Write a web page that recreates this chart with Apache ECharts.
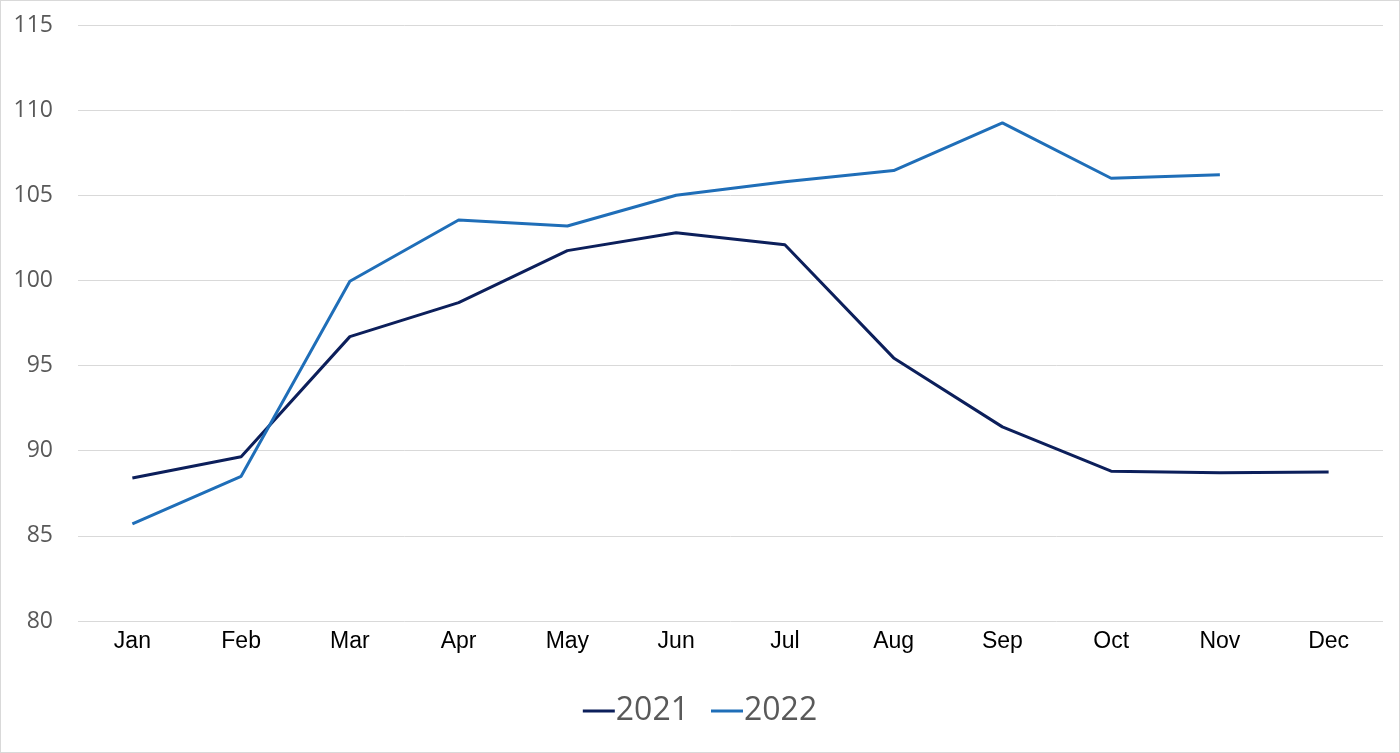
<!DOCTYPE html>
<html>
<head>
<meta charset="utf-8">
<script src="https://cdn.jsdelivr.net/npm/echarts@6/dist/echarts.min.js"></script>
<style>
  html, body { margin: 0; padding: 0; background: #fff; }
  #chart { width: 1398px; height: 751px; border: 1px solid #d9d9d9; }
</style>
</head>
<body>
<div id="chart"></div>
<script>
const months = ["Jan", "Feb", "Mar", "Apr", "May", "Jun", "Jul", "Aug", "Sep", "Oct", "Nov", "Dec"];
const values2021 = [88.4, 89.65, 96.7, 98.7, 101.75, 102.8, 102.1, 95.45, 91.4, 88.8, 88.7, 88.75];
const values2022 = [85.7, 88.5, 99.95, 103.55, 103.2, 105.0, 105.8, 106.45, 109.25, 106.0, 106.2, null];

const chart = echarts.init(document.getElementById("chart"));
chart.setOption({
  animation: false,
  grid: { left: 77, right: 16, top: 24, bottom: 131 },
  legend: {
    bottom: 20,
    left: "center",
    itemWidth: 32,
    itemHeight: 3,
    itemGap: 22,
    icon: "rect",
    textStyle: { fontFamily: "Open Sans", fontSize: 32, color: "#595959", padding: [0, 0, 0, -4] },
    data: ["2021", "2022"]
  },
  xAxis: {
    type: "category",
    data: months,
    boundaryGap: true,
    axisLine: { show: false },
    axisTick: { show: false },
    axisLabel: { fontFamily: "Liberation Sans", fontSize: 23, color: "#000", margin: 9 }
  },
  yAxis: {
    type: "value",
    min: 80,
    max: 115,
    interval: 5,
    axisLine: { show: false },
    axisTick: { show: false },
    splitLine: { lineStyle: { color: "#d9d9d9", width: 1 } },
    axisLabel: { fontFamily: "Open Sans", fontSize: 23, color: "#595959", margin: 25 }
  },
  series: [
    {
      name: "2021",
      type: "line",
      data: values2021,
      symbol: "none",
      lineStyle: { color: "#0c1f5b", width: 3 },
      itemStyle: { color: "#0c1f5b" }
    },
    {
      name: "2022",
      type: "line",
      data: values2022,
      symbol: "none",
      lineStyle: { color: "#1f6eb8", width: 3 },
      itemStyle: { color: "#1f6eb8" }
    }
  ]
});
</script>
</body>
</html>
